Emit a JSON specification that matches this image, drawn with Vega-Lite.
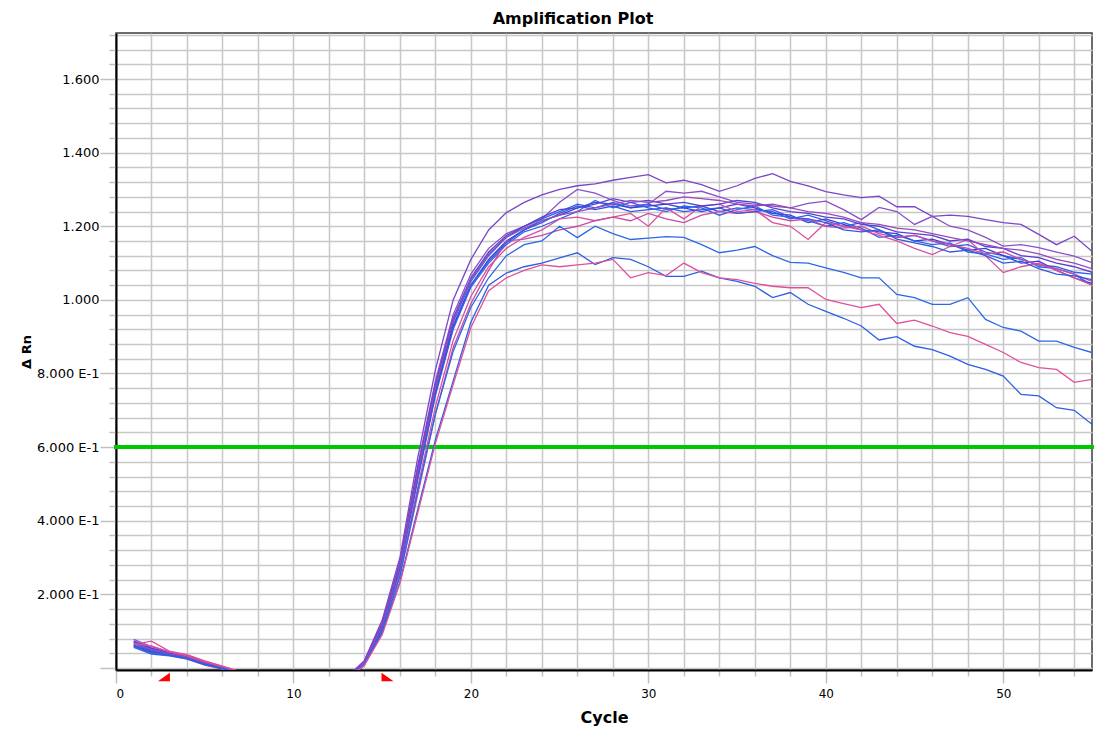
{
  "$schema": "https://vega.github.io/schema/vega-lite/v6.json",
  "width": 976,
  "height": 637,
  "autosize": {"type": "none"},
  "padding": {"left": 116, "top": 33, "right": 15, "bottom": 61},
  "background": "white",
  "title": {
    "text": "Amplification Plot",
    "font": "DejaVu Sans",
    "fontSize": 16,
    "fontWeight": "bold",
    "color": "black",
    "anchor": "middle",
    "dx": -31,
    "baseline": "alphabetic",
    "offset": -11
  },
  "config": {
    "view": {"stroke": "#3c3c3c", "strokeWidth": 1.5},
    "axis": {
      "gridColor": "#c8c8c8",
      "gridWidth": 1.5,
      "gridOpacity": 1,
      "tickColor": "#c0c0c0",
      "tickWidth": 1.5,
      "domainColor": "black",
      "domainWidth": 2,
      "labelFont": "DejaVu Sans",
      "labelColor": "black",
      "titleFont": "DejaVu Sans",
      "titleColor": "black",
      "titleFontWeight": "bold",
      "labelOverlap": false
    }
  },
  "datasets": {
    "wells": [
      {"well":"A1","cycle":1,"dRn":0.072},{"well":"A1","cycle":2,"dRn":0.052},{"well":"A1","cycle":3,"dRn":0.040},{"well":"A1","cycle":4,"dRn":0.030},{"well":"A1","cycle":5,"dRn":0.014},{"well":"A1","cycle":6,"dRn":0.002},{"well":"A1","cycle":7,"dRn":-0.012},
      {"well":"A1","cycle":13,"dRn":-0.025},{"well":"A1","cycle":14,"dRn":0.02},{"well":"A1","cycle":15,"dRn":0.13},{"well":"A1","cycle":16,"dRn":0.30},{"well":"A1","cycle":17,"dRn":0.57},{"well":"A1","cycle":18,"dRn":0.81},{"well":"A1","cycle":19,"dRn":1.00},{"well":"A1","cycle":20,"dRn":1.11},{"well":"A1","cycle":21,"dRn":1.19},{"well":"A1","cycle":22,"dRn":1.237},{"well":"A1","cycle":23,"dRn":1.265},{"well":"A1","cycle":24,"dRn":1.285},{"well":"A1","cycle":25,"dRn":1.30},{"well":"A1","cycle":26,"dRn":1.31},{"well":"A1","cycle":27,"dRn":1.315},{"well":"A1","cycle":28,"dRn":1.325},{"well":"A1","cycle":29,"dRn":1.333},{"well":"A1","cycle":30,"dRn":1.34},{"well":"A1","cycle":31,"dRn":1.318},{"well":"A1","cycle":32,"dRn":1.325},{"well":"A1","cycle":33,"dRn":1.313},{"well":"A1","cycle":34,"dRn":1.295},{"well":"A1","cycle":35,"dRn":1.31},{"well":"A1","cycle":36,"dRn":1.33},{"well":"A1","cycle":37,"dRn":1.343},{"well":"A1","cycle":38,"dRn":1.322},{"well":"A1","cycle":39,"dRn":1.31},{"well":"A1","cycle":40,"dRn":1.294},{"well":"A1","cycle":41,"dRn":1.285},{"well":"A1","cycle":42,"dRn":1.278},{"well":"A1","cycle":43,"dRn":1.282},{"well":"A1","cycle":44,"dRn":1.253},{"well":"A1","cycle":45,"dRn":1.253},{"well":"A1","cycle":46,"dRn":1.227},{"well":"A1","cycle":47,"dRn":1.23},{"well":"A1","cycle":48,"dRn":1.227},{"well":"A1","cycle":49,"dRn":1.218},{"well":"A1","cycle":50,"dRn":1.21},{"well":"A1","cycle":51,"dRn":1.205},{"well":"A1","cycle":52,"dRn":1.178},{"well":"A1","cycle":53,"dRn":1.15},{"well":"A1","cycle":54,"dRn":1.173},{"well":"A1","cycle":55,"dRn":1.132},

      {"well":"A2","cycle":1,"dRn":0.078},{"well":"A2","cycle":2,"dRn":0.058},{"well":"A2","cycle":3,"dRn":0.044},{"well":"A2","cycle":4,"dRn":0.034},{"well":"A2","cycle":5,"dRn":0.018},{"well":"A2","cycle":6,"dRn":0.004},{"well":"A2","cycle":7,"dRn":-0.010},
      {"well":"A2","cycle":13,"dRn":-0.03},{"well":"A2","cycle":14,"dRn":0.02},{"well":"A2","cycle":15,"dRn":0.125},{"well":"A2","cycle":16,"dRn":0.29},{"well":"A2","cycle":17,"dRn":0.55},{"well":"A2","cycle":18,"dRn":0.78},{"well":"A2","cycle":19,"dRn":0.96},{"well":"A2","cycle":20,"dRn":1.07},{"well":"A2","cycle":21,"dRn":1.14},{"well":"A2","cycle":22,"dRn":1.18},{"well":"A2","cycle":23,"dRn":1.20},{"well":"A2","cycle":24,"dRn":1.22},{"well":"A2","cycle":25,"dRn":1.265},{"well":"A2","cycle":26,"dRn":1.30},{"well":"A2","cycle":27,"dRn":1.29},{"well":"A2","cycle":28,"dRn":1.27},{"well":"A2","cycle":29,"dRn":1.255},{"well":"A2","cycle":30,"dRn":1.26},{"well":"A2","cycle":31,"dRn":1.295},{"well":"A2","cycle":32,"dRn":1.29},{"well":"A2","cycle":33,"dRn":1.295},{"well":"A2","cycle":34,"dRn":1.28},{"well":"A2","cycle":35,"dRn":1.265},{"well":"A2","cycle":36,"dRn":1.26},{"well":"A2","cycle":37,"dRn":1.255},{"well":"A2","cycle":38,"dRn":1.25},{"well":"A2","cycle":39,"dRn":1.262},{"well":"A2","cycle":40,"dRn":1.268},{"well":"A2","cycle":41,"dRn":1.245},{"well":"A2","cycle":42,"dRn":1.218},{"well":"A2","cycle":43,"dRn":1.251},{"well":"A2","cycle":44,"dRn":1.24},{"well":"A2","cycle":45,"dRn":1.205},{"well":"A2","cycle":46,"dRn":1.227},{"well":"A2","cycle":47,"dRn":1.20},{"well":"A2","cycle":48,"dRn":1.19},{"well":"A2","cycle":49,"dRn":1.17},{"well":"A2","cycle":50,"dRn":1.146},{"well":"A2","cycle":51,"dRn":1.15},{"well":"A2","cycle":52,"dRn":1.142},{"well":"A2","cycle":53,"dRn":1.13},{"well":"A2","cycle":54,"dRn":1.119},{"well":"A2","cycle":55,"dRn":1.101},

      {"well":"A3","cycle":1,"dRn":0.066},{"well":"A3","cycle":2,"dRn":0.048},{"well":"A3","cycle":3,"dRn":0.038},{"well":"A3","cycle":4,"dRn":0.028},{"well":"A3","cycle":5,"dRn":0.012},{"well":"A3","cycle":6,"dRn":0.0},{"well":"A3","cycle":7,"dRn":-0.014},
      {"well":"A3","cycle":13,"dRn":-0.03},{"well":"A3","cycle":14,"dRn":0.015},{"well":"A3","cycle":15,"dRn":0.115},{"well":"A3","cycle":16,"dRn":0.28},{"well":"A3","cycle":17,"dRn":0.53},{"well":"A3","cycle":18,"dRn":0.76},{"well":"A3","cycle":19,"dRn":0.94},{"well":"A3","cycle":20,"dRn":1.05},{"well":"A3","cycle":21,"dRn":1.12},{"well":"A3","cycle":22,"dRn":1.17},{"well":"A3","cycle":23,"dRn":1.20},{"well":"A3","cycle":24,"dRn":1.22},{"well":"A3","cycle":25,"dRn":1.24},{"well":"A3","cycle":26,"dRn":1.26},{"well":"A3","cycle":27,"dRn":1.25},{"well":"A3","cycle":28,"dRn":1.265},{"well":"A3","cycle":29,"dRn":1.25},{"well":"A3","cycle":30,"dRn":1.26},{"well":"A3","cycle":31,"dRn":1.245},{"well":"A3","cycle":32,"dRn":1.25},{"well":"A3","cycle":33,"dRn":1.255},{"well":"A3","cycle":34,"dRn":1.24},{"well":"A3","cycle":35,"dRn":1.25},{"well":"A3","cycle":36,"dRn":1.245},{"well":"A3","cycle":37,"dRn":1.24},{"well":"A3","cycle":38,"dRn":1.22},{"well":"A3","cycle":39,"dRn":1.23},{"well":"A3","cycle":40,"dRn":1.215},{"well":"A3","cycle":41,"dRn":1.20},{"well":"A3","cycle":42,"dRn":1.21},{"well":"A3","cycle":43,"dRn":1.19},{"well":"A3","cycle":44,"dRn":1.17},{"well":"A3","cycle":45,"dRn":1.175},{"well":"A3","cycle":46,"dRn":1.16},{"well":"A3","cycle":47,"dRn":1.145},{"well":"A3","cycle":48,"dRn":1.15},{"well":"A3","cycle":49,"dRn":1.13},{"well":"A3","cycle":50,"dRn":1.12},{"well":"A3","cycle":51,"dRn":1.11},{"well":"A3","cycle":52,"dRn":1.095},{"well":"A3","cycle":53,"dRn":1.09},{"well":"A3","cycle":54,"dRn":1.075},{"well":"A3","cycle":55,"dRn":1.07},

      {"well":"A4","cycle":1,"dRn":0.060},{"well":"A4","cycle":2,"dRn":0.044},{"well":"A4","cycle":3,"dRn":0.036},{"well":"A4","cycle":4,"dRn":0.026},{"well":"A4","cycle":5,"dRn":0.010},{"well":"A4","cycle":6,"dRn":-0.002},{"well":"A4","cycle":7,"dRn":-0.016},
      {"well":"A4","cycle":13,"dRn":-0.03},{"well":"A4","cycle":14,"dRn":0.015},{"well":"A4","cycle":15,"dRn":0.11},{"well":"A4","cycle":16,"dRn":0.275},{"well":"A4","cycle":17,"dRn":0.52},{"well":"A4","cycle":18,"dRn":0.75},{"well":"A4","cycle":19,"dRn":0.93},{"well":"A4","cycle":20,"dRn":1.04},{"well":"A4","cycle":21,"dRn":1.11},{"well":"A4","cycle":22,"dRn":1.16},{"well":"A4","cycle":23,"dRn":1.19},{"well":"A4","cycle":24,"dRn":1.215},{"well":"A4","cycle":25,"dRn":1.23},{"well":"A4","cycle":26,"dRn":1.25},{"well":"A4","cycle":27,"dRn":1.265},{"well":"A4","cycle":28,"dRn":1.26},{"well":"A4","cycle":29,"dRn":1.25},{"well":"A4","cycle":30,"dRn":1.255},{"well":"A4","cycle":31,"dRn":1.26},{"well":"A4","cycle":32,"dRn":1.25},{"well":"A4","cycle":33,"dRn":1.24},{"well":"A4","cycle":34,"dRn":1.25},{"well":"A4","cycle":35,"dRn":1.26},{"well":"A4","cycle":36,"dRn":1.25},{"well":"A4","cycle":37,"dRn":1.235},{"well":"A4","cycle":38,"dRn":1.23},{"well":"A4","cycle":39,"dRn":1.21},{"well":"A4","cycle":40,"dRn":1.22},{"well":"A4","cycle":41,"dRn":1.205},{"well":"A4","cycle":42,"dRn":1.19},{"well":"A4","cycle":43,"dRn":1.185},{"well":"A4","cycle":44,"dRn":1.18},{"well":"A4","cycle":45,"dRn":1.16},{"well":"A4","cycle":46,"dRn":1.165},{"well":"A4","cycle":47,"dRn":1.15},{"well":"A4","cycle":48,"dRn":1.135},{"well":"A4","cycle":49,"dRn":1.14},{"well":"A4","cycle":50,"dRn":1.12},{"well":"A4","cycle":51,"dRn":1.10},{"well":"A4","cycle":52,"dRn":1.105},{"well":"A4","cycle":53,"dRn":1.08},{"well":"A4","cycle":54,"dRn":1.06},{"well":"A4","cycle":55,"dRn":1.045},

      {"well":"A5","cycle":1,"dRn":0.070},{"well":"A5","cycle":2,"dRn":0.050},{"well":"A5","cycle":3,"dRn":0.040},{"well":"A5","cycle":4,"dRn":0.032},{"well":"A5","cycle":5,"dRn":0.016},{"well":"A5","cycle":6,"dRn":0.002},{"well":"A5","cycle":7,"dRn":-0.012},
      {"well":"A5","cycle":13,"dRn":-0.03},{"well":"A5","cycle":14,"dRn":0.012},{"well":"A5","cycle":15,"dRn":0.105},{"well":"A5","cycle":16,"dRn":0.27},{"well":"A5","cycle":17,"dRn":0.51},{"well":"A5","cycle":18,"dRn":0.74},{"well":"A5","cycle":19,"dRn":0.92},{"well":"A5","cycle":20,"dRn":1.035},{"well":"A5","cycle":21,"dRn":1.10},{"well":"A5","cycle":22,"dRn":1.15},{"well":"A5","cycle":23,"dRn":1.185},{"well":"A5","cycle":24,"dRn":1.20},{"well":"A5","cycle":25,"dRn":1.22},{"well":"A5","cycle":26,"dRn":1.24},{"well":"A5","cycle":27,"dRn":1.27},{"well":"A5","cycle":28,"dRn":1.25},{"well":"A5","cycle":29,"dRn":1.265},{"well":"A5","cycle":30,"dRn":1.25},{"well":"A5","cycle":31,"dRn":1.24},{"well":"A5","cycle":32,"dRn":1.255},{"well":"A5","cycle":33,"dRn":1.25},{"well":"A5","cycle":34,"dRn":1.23},{"well":"A5","cycle":35,"dRn":1.245},{"well":"A5","cycle":36,"dRn":1.255},{"well":"A5","cycle":37,"dRn":1.23},{"well":"A5","cycle":38,"dRn":1.225},{"well":"A5","cycle":39,"dRn":1.215},{"well":"A5","cycle":40,"dRn":1.20},{"well":"A5","cycle":41,"dRn":1.21},{"well":"A5","cycle":42,"dRn":1.195},{"well":"A5","cycle":43,"dRn":1.17},{"well":"A5","cycle":44,"dRn":1.175},{"well":"A5","cycle":45,"dRn":1.16},{"well":"A5","cycle":46,"dRn":1.15},{"well":"A5","cycle":47,"dRn":1.155},{"well":"A5","cycle":48,"dRn":1.13},{"well":"A5","cycle":49,"dRn":1.125},{"well":"A5","cycle":50,"dRn":1.11},{"well":"A5","cycle":51,"dRn":1.115},{"well":"A5","cycle":52,"dRn":1.09},{"well":"A5","cycle":53,"dRn":1.085},{"well":"A5","cycle":54,"dRn":1.07},{"well":"A5","cycle":55,"dRn":1.04},

      {"well":"A6","cycle":1,"dRn":0.064},{"well":"A6","cycle":2,"dRn":0.073},{"well":"A6","cycle":3,"dRn":0.046},{"well":"A6","cycle":4,"dRn":0.036},{"well":"A6","cycle":5,"dRn":0.019},{"well":"A6","cycle":6,"dRn":0.005},{"well":"A6","cycle":7,"dRn":-0.010},
      {"well":"A6","cycle":13,"dRn":-0.035},{"well":"A6","cycle":14,"dRn":0.01},{"well":"A6","cycle":15,"dRn":0.10},{"well":"A6","cycle":16,"dRn":0.26},{"well":"A6","cycle":17,"dRn":0.49},{"well":"A6","cycle":18,"dRn":0.71},{"well":"A6","cycle":19,"dRn":0.89},{"well":"A6","cycle":20,"dRn":1.01},{"well":"A6","cycle":21,"dRn":1.09},{"well":"A6","cycle":22,"dRn":1.14},{"well":"A6","cycle":23,"dRn":1.17},{"well":"A6","cycle":24,"dRn":1.19},{"well":"A6","cycle":25,"dRn":1.22},{"well":"A6","cycle":26,"dRn":1.225},{"well":"A6","cycle":27,"dRn":1.215},{"well":"A6","cycle":28,"dRn":1.225},{"well":"A6","cycle":29,"dRn":1.235},{"well":"A6","cycle":30,"dRn":1.20},{"well":"A6","cycle":31,"dRn":1.25},{"well":"A6","cycle":32,"dRn":1.22},{"well":"A6","cycle":33,"dRn":1.255},{"well":"A6","cycle":34,"dRn":1.26},{"well":"A6","cycle":35,"dRn":1.24},{"well":"A6","cycle":36,"dRn":1.245},{"well":"A6","cycle":37,"dRn":1.21},{"well":"A6","cycle":38,"dRn":1.20},{"well":"A6","cycle":39,"dRn":1.164},{"well":"A6","cycle":40,"dRn":1.21},{"well":"A6","cycle":41,"dRn":1.20},{"well":"A6","cycle":42,"dRn":1.19},{"well":"A6","cycle":43,"dRn":1.175},{"well":"A6","cycle":44,"dRn":1.16},{"well":"A6","cycle":45,"dRn":1.14},{"well":"A6","cycle":46,"dRn":1.123},{"well":"A6","cycle":47,"dRn":1.145},{"well":"A6","cycle":48,"dRn":1.164},{"well":"A6","cycle":49,"dRn":1.12},{"well":"A6","cycle":50,"dRn":1.074},{"well":"A6","cycle":51,"dRn":1.09},{"well":"A6","cycle":52,"dRn":1.10},{"well":"A6","cycle":53,"dRn":1.08},{"well":"A6","cycle":54,"dRn":1.06},{"well":"A6","cycle":55,"dRn":1.04},

      {"well":"A7","cycle":1,"dRn":0.058},{"well":"A7","cycle":2,"dRn":0.040},{"well":"A7","cycle":3,"dRn":0.034},{"well":"A7","cycle":4,"dRn":0.024},{"well":"A7","cycle":5,"dRn":0.008},{"well":"A7","cycle":6,"dRn":-0.003},{"well":"A7","cycle":7,"dRn":-0.018},
      {"well":"A7","cycle":13,"dRn":-0.03},{"well":"A7","cycle":14,"dRn":0.01},{"well":"A7","cycle":15,"dRn":0.10},{"well":"A7","cycle":16,"dRn":0.25},{"well":"A7","cycle":17,"dRn":0.47},{"well":"A7","cycle":18,"dRn":0.69},{"well":"A7","cycle":19,"dRn":0.87},{"well":"A7","cycle":20,"dRn":0.99},{"well":"A7","cycle":21,"dRn":1.08},{"well":"A7","cycle":22,"dRn":1.16},{"well":"A7","cycle":23,"dRn":1.165},{"well":"A7","cycle":24,"dRn":1.175},{"well":"A7","cycle":25,"dRn":1.19},{"well":"A7","cycle":26,"dRn":1.20},{"well":"A7","cycle":27,"dRn":1.215},{"well":"A7","cycle":28,"dRn":1.225},{"well":"A7","cycle":29,"dRn":1.215},{"well":"A7","cycle":30,"dRn":1.235},{"well":"A7","cycle":31,"dRn":1.22},{"well":"A7","cycle":32,"dRn":1.21},{"well":"A7","cycle":33,"dRn":1.23},{"well":"A7","cycle":34,"dRn":1.24},{"well":"A7","cycle":35,"dRn":1.235},{"well":"A7","cycle":36,"dRn":1.24},{"well":"A7","cycle":37,"dRn":1.225},{"well":"A7","cycle":38,"dRn":1.215},{"well":"A7","cycle":39,"dRn":1.22},{"well":"A7","cycle":40,"dRn":1.20},{"well":"A7","cycle":41,"dRn":1.195},{"well":"A7","cycle":42,"dRn":1.20},{"well":"A7","cycle":43,"dRn":1.18},{"well":"A7","cycle":44,"dRn":1.17},{"well":"A7","cycle":45,"dRn":1.175},{"well":"A7","cycle":46,"dRn":1.16},{"well":"A7","cycle":47,"dRn":1.15},{"well":"A7","cycle":48,"dRn":1.14},{"well":"A7","cycle":49,"dRn":1.125},{"well":"A7","cycle":50,"dRn":1.13},{"well":"A7","cycle":51,"dRn":1.11},{"well":"A7","cycle":52,"dRn":1.095},{"well":"A7","cycle":53,"dRn":1.085},{"well":"A7","cycle":54,"dRn":1.07},{"well":"A7","cycle":55,"dRn":1.05},

      {"well":"A8","cycle":1,"dRn":0.074},{"well":"A8","cycle":2,"dRn":0.054},{"well":"A8","cycle":3,"dRn":0.042},{"well":"A8","cycle":4,"dRn":0.030},{"well":"A8","cycle":5,"dRn":0.015},{"well":"A8","cycle":6,"dRn":0.003},{"well":"A8","cycle":7,"dRn":-0.012},
      {"well":"A8","cycle":13,"dRn":-0.03},{"well":"A8","cycle":14,"dRn":0.018},{"well":"A8","cycle":15,"dRn":0.12},{"well":"A8","cycle":16,"dRn":0.285},{"well":"A8","cycle":17,"dRn":0.54},{"well":"A8","cycle":18,"dRn":0.77},{"well":"A8","cycle":19,"dRn":0.95},{"well":"A8","cycle":20,"dRn":1.06},{"well":"A8","cycle":21,"dRn":1.13},{"well":"A8","cycle":22,"dRn":1.175},{"well":"A8","cycle":23,"dRn":1.20},{"well":"A8","cycle":24,"dRn":1.225},{"well":"A8","cycle":25,"dRn":1.245},{"well":"A8","cycle":26,"dRn":1.25},{"well":"A8","cycle":27,"dRn":1.26},{"well":"A8","cycle":28,"dRn":1.275},{"well":"A8","cycle":29,"dRn":1.265},{"well":"A8","cycle":30,"dRn":1.27},{"well":"A8","cycle":31,"dRn":1.26},{"well":"A8","cycle":32,"dRn":1.265},{"well":"A8","cycle":33,"dRn":1.255},{"well":"A8","cycle":34,"dRn":1.26},{"well":"A8","cycle":35,"dRn":1.27},{"well":"A8","cycle":36,"dRn":1.265},{"well":"A8","cycle":37,"dRn":1.25},{"well":"A8","cycle":38,"dRn":1.24},{"well":"A8","cycle":39,"dRn":1.235},{"well":"A8","cycle":40,"dRn":1.225},{"well":"A8","cycle":41,"dRn":1.22},{"well":"A8","cycle":42,"dRn":1.205},{"well":"A8","cycle":43,"dRn":1.20},{"well":"A8","cycle":44,"dRn":1.185},{"well":"A8","cycle":45,"dRn":1.18},{"well":"A8","cycle":46,"dRn":1.175},{"well":"A8","cycle":47,"dRn":1.16},{"well":"A8","cycle":48,"dRn":1.165},{"well":"A8","cycle":49,"dRn":1.145},{"well":"A8","cycle":50,"dRn":1.14},{"well":"A8","cycle":51,"dRn":1.12},{"well":"A8","cycle":52,"dRn":1.115},{"well":"A8","cycle":53,"dRn":1.10},{"well":"A8","cycle":54,"dRn":1.09},{"well":"A8","cycle":55,"dRn":1.075},

      {"well":"A9","cycle":1,"dRn":0.062},{"well":"A9","cycle":2,"dRn":0.046},{"well":"A9","cycle":3,"dRn":0.036},{"well":"A9","cycle":4,"dRn":0.027},{"well":"A9","cycle":5,"dRn":0.011},{"well":"A9","cycle":6,"dRn":0.0},{"well":"A9","cycle":7,"dRn":-0.015},
      {"well":"A9","cycle":13,"dRn":-0.03},{"well":"A9","cycle":14,"dRn":0.014},{"well":"A9","cycle":15,"dRn":0.11},{"well":"A9","cycle":16,"dRn":0.27},{"well":"A9","cycle":17,"dRn":0.515},{"well":"A9","cycle":18,"dRn":0.745},{"well":"A9","cycle":19,"dRn":0.925},{"well":"A9","cycle":20,"dRn":1.04},{"well":"A9","cycle":21,"dRn":1.105},{"well":"A9","cycle":22,"dRn":1.155},{"well":"A9","cycle":23,"dRn":1.19},{"well":"A9","cycle":24,"dRn":1.21},{"well":"A9","cycle":25,"dRn":1.235},{"well":"A9","cycle":26,"dRn":1.255},{"well":"A9","cycle":27,"dRn":1.245},{"well":"A9","cycle":28,"dRn":1.255},{"well":"A9","cycle":29,"dRn":1.24},{"well":"A9","cycle":30,"dRn":1.245},{"well":"A9","cycle":31,"dRn":1.25},{"well":"A9","cycle":32,"dRn":1.24},{"well":"A9","cycle":33,"dRn":1.245},{"well":"A9","cycle":34,"dRn":1.25},{"well":"A9","cycle":35,"dRn":1.235},{"well":"A9","cycle":36,"dRn":1.24},{"well":"A9","cycle":37,"dRn":1.245},{"well":"A9","cycle":38,"dRn":1.225},{"well":"A9","cycle":39,"dRn":1.22},{"well":"A9","cycle":40,"dRn":1.21},{"well":"A9","cycle":41,"dRn":1.19},{"well":"A9","cycle":42,"dRn":1.185},{"well":"A9","cycle":43,"dRn":1.19},{"well":"A9","cycle":44,"dRn":1.165},{"well":"A9","cycle":45,"dRn":1.155},{"well":"A9","cycle":46,"dRn":1.145},{"well":"A9","cycle":47,"dRn":1.13},{"well":"A9","cycle":48,"dRn":1.135},{"well":"A9","cycle":49,"dRn":1.12},{"well":"A9","cycle":50,"dRn":1.10},{"well":"A9","cycle":51,"dRn":1.105},{"well":"A9","cycle":52,"dRn":1.085},{"well":"A9","cycle":53,"dRn":1.07},{"well":"A9","cycle":54,"dRn":1.065},{"well":"A9","cycle":55,"dRn":1.055},

      {"well":"A10","cycle":1,"dRn":0.068},{"well":"A10","cycle":2,"dRn":0.050},{"well":"A10","cycle":3,"dRn":0.038},{"well":"A10","cycle":4,"dRn":0.029},{"well":"A10","cycle":5,"dRn":0.013},{"well":"A10","cycle":6,"dRn":0.001},{"well":"A10","cycle":7,"dRn":-0.013},
      {"well":"A10","cycle":13,"dRn":-0.03},{"well":"A10","cycle":14,"dRn":0.016},{"well":"A10","cycle":15,"dRn":0.115},{"well":"A10","cycle":16,"dRn":0.28},{"well":"A10","cycle":17,"dRn":0.53},{"well":"A10","cycle":18,"dRn":0.76},{"well":"A10","cycle":19,"dRn":0.945},{"well":"A10","cycle":20,"dRn":1.055},{"well":"A10","cycle":21,"dRn":1.125},{"well":"A10","cycle":22,"dRn":1.17},{"well":"A10","cycle":23,"dRn":1.195},{"well":"A10","cycle":24,"dRn":1.215},{"well":"A10","cycle":25,"dRn":1.23},{"well":"A10","cycle":26,"dRn":1.24},{"well":"A10","cycle":27,"dRn":1.25},{"well":"A10","cycle":28,"dRn":1.26},{"well":"A10","cycle":29,"dRn":1.27},{"well":"A10","cycle":30,"dRn":1.265},{"well":"A10","cycle":31,"dRn":1.27},{"well":"A10","cycle":32,"dRn":1.28},{"well":"A10","cycle":33,"dRn":1.275},{"well":"A10","cycle":34,"dRn":1.27},{"well":"A10","cycle":35,"dRn":1.26},{"well":"A10","cycle":36,"dRn":1.255},{"well":"A10","cycle":37,"dRn":1.26},{"well":"A10","cycle":38,"dRn":1.25},{"well":"A10","cycle":39,"dRn":1.24},{"well":"A10","cycle":40,"dRn":1.235},{"well":"A10","cycle":41,"dRn":1.225},{"well":"A10","cycle":42,"dRn":1.21},{"well":"A10","cycle":43,"dRn":1.205},{"well":"A10","cycle":44,"dRn":1.195},{"well":"A10","cycle":45,"dRn":1.19},{"well":"A10","cycle":46,"dRn":1.18},{"well":"A10","cycle":47,"dRn":1.17},{"well":"A10","cycle":48,"dRn":1.16},{"well":"A10","cycle":49,"dRn":1.15},{"well":"A10","cycle":50,"dRn":1.14},{"well":"A10","cycle":51,"dRn":1.135},{"well":"A10","cycle":52,"dRn":1.125},{"well":"A10","cycle":53,"dRn":1.11},{"well":"A10","cycle":54,"dRn":1.10},{"well":"A10","cycle":55,"dRn":1.085},

      {"well":"A11","cycle":1,"dRn":0.056},{"well":"A11","cycle":2,"dRn":0.038},{"well":"A11","cycle":3,"dRn":0.033},{"well":"A11","cycle":4,"dRn":0.025},{"well":"A11","cycle":5,"dRn":0.009},{"well":"A11","cycle":6,"dRn":-0.002},{"well":"A11","cycle":7,"dRn":-0.017},
      {"well":"A11","cycle":13,"dRn":-0.035},{"well":"A11","cycle":14,"dRn":0.01},{"well":"A11","cycle":15,"dRn":0.10},{"well":"A11","cycle":16,"dRn":0.25},{"well":"A11","cycle":17,"dRn":0.48},{"well":"A11","cycle":18,"dRn":0.69},{"well":"A11","cycle":19,"dRn":0.86},{"well":"A11","cycle":20,"dRn":0.98},{"well":"A11","cycle":21,"dRn":1.06},{"well":"A11","cycle":22,"dRn":1.12},{"well":"A11","cycle":23,"dRn":1.15},{"well":"A11","cycle":24,"dRn":1.16},{"well":"A11","cycle":25,"dRn":1.20},{"well":"A11","cycle":26,"dRn":1.169},{"well":"A11","cycle":27,"dRn":1.20},{"well":"A11","cycle":28,"dRn":1.18},{"well":"A11","cycle":29,"dRn":1.164},{"well":"A11","cycle":30,"dRn":1.168},{"well":"A11","cycle":31,"dRn":1.172},{"well":"A11","cycle":32,"dRn":1.17},{"well":"A11","cycle":33,"dRn":1.15},{"well":"A11","cycle":34,"dRn":1.128},{"well":"A11","cycle":35,"dRn":1.135},{"well":"A11","cycle":36,"dRn":1.145},{"well":"A11","cycle":37,"dRn":1.12},{"well":"A11","cycle":38,"dRn":1.102},{"well":"A11","cycle":39,"dRn":1.10},{"well":"A11","cycle":40,"dRn":1.087},{"well":"A11","cycle":41,"dRn":1.075},{"well":"A11","cycle":42,"dRn":1.06},{"well":"A11","cycle":43,"dRn":1.06},{"well":"A11","cycle":44,"dRn":1.015},{"well":"A11","cycle":45,"dRn":1.006},{"well":"A11","cycle":46,"dRn":0.988},{"well":"A11","cycle":47,"dRn":0.988},{"well":"A11","cycle":48,"dRn":1.006},{"well":"A11","cycle":49,"dRn":0.947},{"well":"A11","cycle":50,"dRn":0.925},{"well":"A11","cycle":51,"dRn":0.915},{"well":"A11","cycle":52,"dRn":0.888},{"well":"A11","cycle":53,"dRn":0.888},{"well":"A11","cycle":54,"dRn":0.871},{"well":"A11","cycle":55,"dRn":0.857},

      {"well":"A12","cycle":1,"dRn":0.060},{"well":"A12","cycle":2,"dRn":0.042},{"well":"A12","cycle":3,"dRn":0.035},{"well":"A12","cycle":4,"dRn":0.026},{"well":"A12","cycle":5,"dRn":0.010},{"well":"A12","cycle":6,"dRn":-0.001},{"well":"A12","cycle":7,"dRn":-0.016},
      {"well":"A12","cycle":13,"dRn":-0.035},{"well":"A12","cycle":14,"dRn":0.008},{"well":"A12","cycle":15,"dRn":0.095},{"well":"A12","cycle":16,"dRn":0.235},{"well":"A12","cycle":17,"dRn":0.43},{"well":"A12","cycle":18,"dRn":0.62},{"well":"A12","cycle":19,"dRn":0.78},{"well":"A12","cycle":20,"dRn":0.94},{"well":"A12","cycle":21,"dRn":1.04},{"well":"A12","cycle":22,"dRn":1.073},{"well":"A12","cycle":23,"dRn":1.09},{"well":"A12","cycle":24,"dRn":1.10},{"well":"A12","cycle":25,"dRn":1.114},{"well":"A12","cycle":26,"dRn":1.128},{"well":"A12","cycle":27,"dRn":1.096},{"well":"A12","cycle":28,"dRn":1.115},{"well":"A12","cycle":29,"dRn":1.11},{"well":"A12","cycle":30,"dRn":1.09},{"well":"A12","cycle":31,"dRn":1.064},{"well":"A12","cycle":32,"dRn":1.064},{"well":"A12","cycle":33,"dRn":1.078},{"well":"A12","cycle":34,"dRn":1.06},{"well":"A12","cycle":35,"dRn":1.05},{"well":"A12","cycle":36,"dRn":1.037},{"well":"A12","cycle":37,"dRn":1.006},{"well":"A12","cycle":38,"dRn":1.02},{"well":"A12","cycle":39,"dRn":0.988},{"well":"A12","cycle":40,"dRn":0.969},{"well":"A12","cycle":41,"dRn":0.95},{"well":"A12","cycle":42,"dRn":0.929},{"well":"A12","cycle":43,"dRn":0.891},{"well":"A12","cycle":44,"dRn":0.90},{"well":"A12","cycle":45,"dRn":0.874},{"well":"A12","cycle":46,"dRn":0.865},{"well":"A12","cycle":47,"dRn":0.847},{"well":"A12","cycle":48,"dRn":0.825},{"well":"A12","cycle":49,"dRn":0.811},{"well":"A12","cycle":50,"dRn":0.793},{"well":"A12","cycle":51,"dRn":0.743},{"well":"A12","cycle":52,"dRn":0.739},{"well":"A12","cycle":53,"dRn":0.707},{"well":"A12","cycle":54,"dRn":0.70},{"well":"A12","cycle":55,"dRn":0.662},

      {"well":"A13","cycle":1,"dRn":0.066},{"well":"A13","cycle":2,"dRn":0.060},{"well":"A13","cycle":3,"dRn":0.044},{"well":"A13","cycle":4,"dRn":0.033},{"well":"A13","cycle":5,"dRn":0.017},{"well":"A13","cycle":6,"dRn":0.004},{"well":"A13","cycle":7,"dRn":-0.011},
      {"well":"A13","cycle":13,"dRn":-0.035},{"well":"A13","cycle":14,"dRn":0.008},{"well":"A13","cycle":15,"dRn":0.09},{"well":"A13","cycle":16,"dRn":0.23},{"well":"A13","cycle":17,"dRn":0.42},{"well":"A13","cycle":18,"dRn":0.61},{"well":"A13","cycle":19,"dRn":0.77},{"well":"A13","cycle":20,"dRn":0.925},{"well":"A13","cycle":21,"dRn":1.025},{"well":"A13","cycle":22,"dRn":1.06},{"well":"A13","cycle":23,"dRn":1.08},{"well":"A13","cycle":24,"dRn":1.095},{"well":"A13","cycle":25,"dRn":1.09},{"well":"A13","cycle":26,"dRn":1.095},{"well":"A13","cycle":27,"dRn":1.10},{"well":"A13","cycle":28,"dRn":1.11},{"well":"A13","cycle":29,"dRn":1.06},{"well":"A13","cycle":30,"dRn":1.074},{"well":"A13","cycle":31,"dRn":1.066},{"well":"A13","cycle":32,"dRn":1.10},{"well":"A13","cycle":33,"dRn":1.074},{"well":"A13","cycle":34,"dRn":1.06},{"well":"A13","cycle":35,"dRn":1.055},{"well":"A13","cycle":36,"dRn":1.045},{"well":"A13","cycle":37,"dRn":1.037},{"well":"A13","cycle":38,"dRn":1.033},{"well":"A13","cycle":39,"dRn":1.033},{"well":"A13","cycle":40,"dRn":1.001},{"well":"A13","cycle":41,"dRn":0.99},{"well":"A13","cycle":42,"dRn":0.979},{"well":"A13","cycle":43,"dRn":0.988},{"well":"A13","cycle":44,"dRn":0.936},{"well":"A13","cycle":45,"dRn":0.945},{"well":"A13","cycle":46,"dRn":0.929},{"well":"A13","cycle":47,"dRn":0.911},{"well":"A13","cycle":48,"dRn":0.901},{"well":"A13","cycle":49,"dRn":0.879},{"well":"A13","cycle":50,"dRn":0.857},{"well":"A13","cycle":51,"dRn":0.83},{"well":"A13","cycle":52,"dRn":0.816},{"well":"A13","cycle":53,"dRn":0.811},{"well":"A13","cycle":54,"dRn":0.776},{"well":"A13","cycle":55,"dRn":0.784}
    ],
    "baseline": [
      {"marker": "baseline start", "cycle": 2.7},
      {"marker": "baseline end", "cycle": 15.3}
    ],
    "threshold": [
      {"threshold": 0.6}
    ]
  },
  "layer": [
    {
      "data": {"name": "threshold"},
      "mark": {"type": "rule", "color": "#00c800", "strokeWidth": 4, "strokeCap": "square"},
      "encoding": {"y": {"field": "threshold", "type": "quantitative"}}
    },
    {
      "data": {"name": "wells"},
      "mark": {"type": "line", "strokeWidth": 1.3, "clip": true},
      "encoding": {
        "x": {
          "field": "cycle",
          "type": "quantitative",
          "scale": {"domain": [0, 55], "nice": false, "zero": false},
          "axis": {
            "title": "Cycle",
            "titleFontSize": 16,
            "titlePadding": 10,
            "tickCount": 200,
            "values": [0,2,4,6,8,10,12,14,16,18,20,22,24,26,28,30,32,34,36,38,40,42,44,46,48,50,52,54],
            "labelExpr": "datum.value % 10 === 0 ? format(datum.value, 'd') : ''",
            "labelFontSize": 12,
            "labelPadding": 5,
            "labelOverlap": false,
            "tickSize": {"condition": {"test": "datum.value % 10 === 0", "value": 13}, "value": 6}
          }
        },
        "y": {
          "field": "dRn",
          "type": "quantitative",
          "scale": {"domain": [-0.0055, 1.725], "nice": false, "zero": false},
          "axis": {
            "title": "Δ Rn",
            "titleFontSize": 13,
            "titlePadding": 3,
            "tickCount": 200,
            "values": [0,0.04,0.08,0.12,0.16,0.2,0.24,0.28,0.32,0.36,0.4,0.44,0.48,0.52,0.56,0.6,0.64,0.68,0.72,0.76,0.8,0.84,0.88,0.92,0.96,1,1.04,1.08,1.12,1.16,1.2,1.24,1.28,1.32,1.36,1.4,1.44,1.48,1.52,1.56,1.6,1.64,1.68,1.72],
            "labelExpr": "abs(datum.value * 5 - round(datum.value * 5)) > 0.000001 || datum.value === 0 ? '' : (datum.value >= 1 ? format(datum.value, '.3f') : format(datum.value * 10, '.3f') + ' E-1')",
            "labelFontSize": 13,
            "labelPadding": 1,
            "labelOverlap": false,
            "tickSize": {"condition": {"test": "abs(datum.value * 5 - round(datum.value * 5)) < 0.000001", "value": 16}, "value": 7}
          }
        },
        "color": {
          "field": "well",
          "type": "nominal",
          "legend": null,
          "scale": {
            "domain": ["A1","A2","A3","A4","A5","A6","A7","A8","A9","A10","A11","A12","A13"],
            "range": ["#7b45c8","#8a50c8","#2f60e6","#3a3ed6","#2d66ea","#d8509e","#c84aa8","#5a40d0","#3558e0","#9a48bc","#2a68e8","#2c5ee6","#e0509a"]
          }
        },
        "detail": {"field": "well"}
      }
    },
    {
      "data": {"name": "baseline"},
      "mark": {"type": "point", "filled": true, "color": "#ff0000", "opacity": 1, "size": 144, "strokeWidth": 0},
      "encoding": {
        "x": {"field": "cycle", "type": "quantitative"},
        "y": {"datum": -0.0055},
        "yOffset": {"value": 7},
        "shape": {
          "field": "marker",
          "type": "nominal",
          "legend": null,
          "scale": {
            "domain": ["baseline start", "baseline end"],
            "range": ["M 1 -0.7 L 1 0.7 L -1 0.7 Z", "M -1 -0.7 L 1 0.7 L -1 0.7 Z"]
          }
        }
      }
    }
  ]
}
